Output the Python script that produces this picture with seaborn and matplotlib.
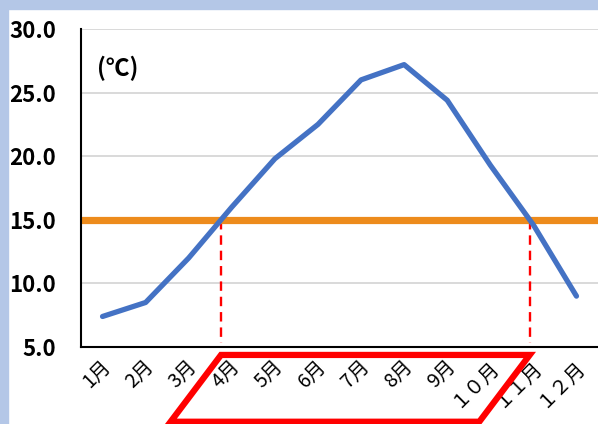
import numpy as np
import pandas as pd
import seaborn as sns
import matplotlib.pyplot as plt
from matplotlib.patches import Rectangle, Polygon
from matplotlib.transforms import blended_transform_factory, ScaledTranslation

# monthly temperatures
months = ['1月', '2月', '3月', '4月', '5月', '6月', '7月', '8月', '9月', '１０月', '１１月', '１２月']
temps = [7.4, 8.5, 12.0, 16.0, 19.8, 22.5, 26.0, 27.2, 24.4, 19.3, 14.6, 9.0]
threshold = 15.0
y_ticks = [5.0, 10.0, 15.0, 20.0, 25.0, 30.0]

sns.set_style('white')
plt.rcParams['font.family'] = ['Noto Sans CJK JP', 'DejaVu Sans']
plt.rcParams['text.color'] = 'black'
plt.rcParams['xtick.color'] = 'black'
plt.rcParams['ytick.color'] = 'black'

df = pd.DataFrame({'month': months, 'temp': temps})

fig = plt.figure(figsize=(5.98, 4.24), dpi=100)
ax = fig.add_axes([81 / 598, 1 - 347 / 424, 517 / 598, 318 / 424])

# light blue frame at top and left
fig.patches.append(Rectangle((0, 1 - 9 / 424), 1, 9 / 424, transform=fig.transFigure,
                             color='#B4C7E7', zorder=-1))
fig.patches.append(Rectangle((0, 0), 8 / 598, 1, transform=fig.transFigure,
                             color='#B4C7E7', zorder=-1))

sns.lineplot(data=df, x='month', y='temp', sort=False, color='#4472C4',
             linewidth=3.8, ax=ax, solid_capstyle='round', zorder=3)
ax.axhline(threshold, color='#ED8B1C', linewidth=5.2, zorder=2)

# where the curve crosses the threshold
cross = []
for i in range(len(temps) - 1):
    a, b = temps[i], temps[i + 1]
    if (a - threshold) * (b - threshold) < 0:
        cross.append(i + (threshold - a) / (b - a))

for xc in cross:
    ax.plot([xc, xc], [threshold, 5.3], color='#FF0000', linestyle=(0, (4, 2.5)),
            linewidth=1.7, zorder=1)

# red parallelogram around the period below the axis
trans = blended_transform_factory(ax.transData, ax.transAxes)
shift = 1.17
y_top, y_bot = -0.025, -0.235
poly = Polygon([(cross[0], y_top), (cross[1], y_top), (cross[1] - shift, y_bot),
                (cross[0] - shift, y_bot)], closed=True, fill=False,
               edgecolor='#FF0000', linewidth=4.5, transform=trans, clip_on=False,
               joinstyle='miter', zorder=5)
ax.add_patch(poly)

ax.set_xlim(-0.5, len(months) - 0.5)
ax.set_ylim(5, 30)
ax.set_yticks(y_ticks)
ax.set_yticklabels([f'{v:.1f}' for v in y_ticks], fontsize=16, fontweight='bold')
ax.tick_params(axis='y', length=0, pad=18)
ax.set_xticks(range(len(months)))
ax.set_xticklabels(months, rotation=45, ha='right', va='center',
                   rotation_mode='anchor', fontsize=14)
ax.tick_params(axis='x', length=0, pad=14)
offset = ScaledTranslation(5 / 100, 3 / 100, fig.dpi_scale_trans)
for lbl in ax.get_xticklabels():
    lbl.set_transform(lbl.get_transform() + offset)

ax.yaxis.grid(True, color='#D9D9D9', linewidth=1.4)
ax.xaxis.grid(False)
ax.set_axisbelow(True)
for s in ['top', 'right']:
    ax.spines[s].set_visible(False)
ax.spines['left'].set_color('black')
ax.spines['bottom'].set_color('black')
ax.spines['left'].set_linewidth(1.5)
ax.spines['bottom'].set_linewidth(1.5)
ax.set_xlabel('')
ax.set_ylabel('')

ax.text(0.03, 0.875, '(℃)', transform=ax.transAxes, fontsize=17,
        fontweight='bold', va='center', ha='left')

fig.savefig('out.png', dpi=100)
